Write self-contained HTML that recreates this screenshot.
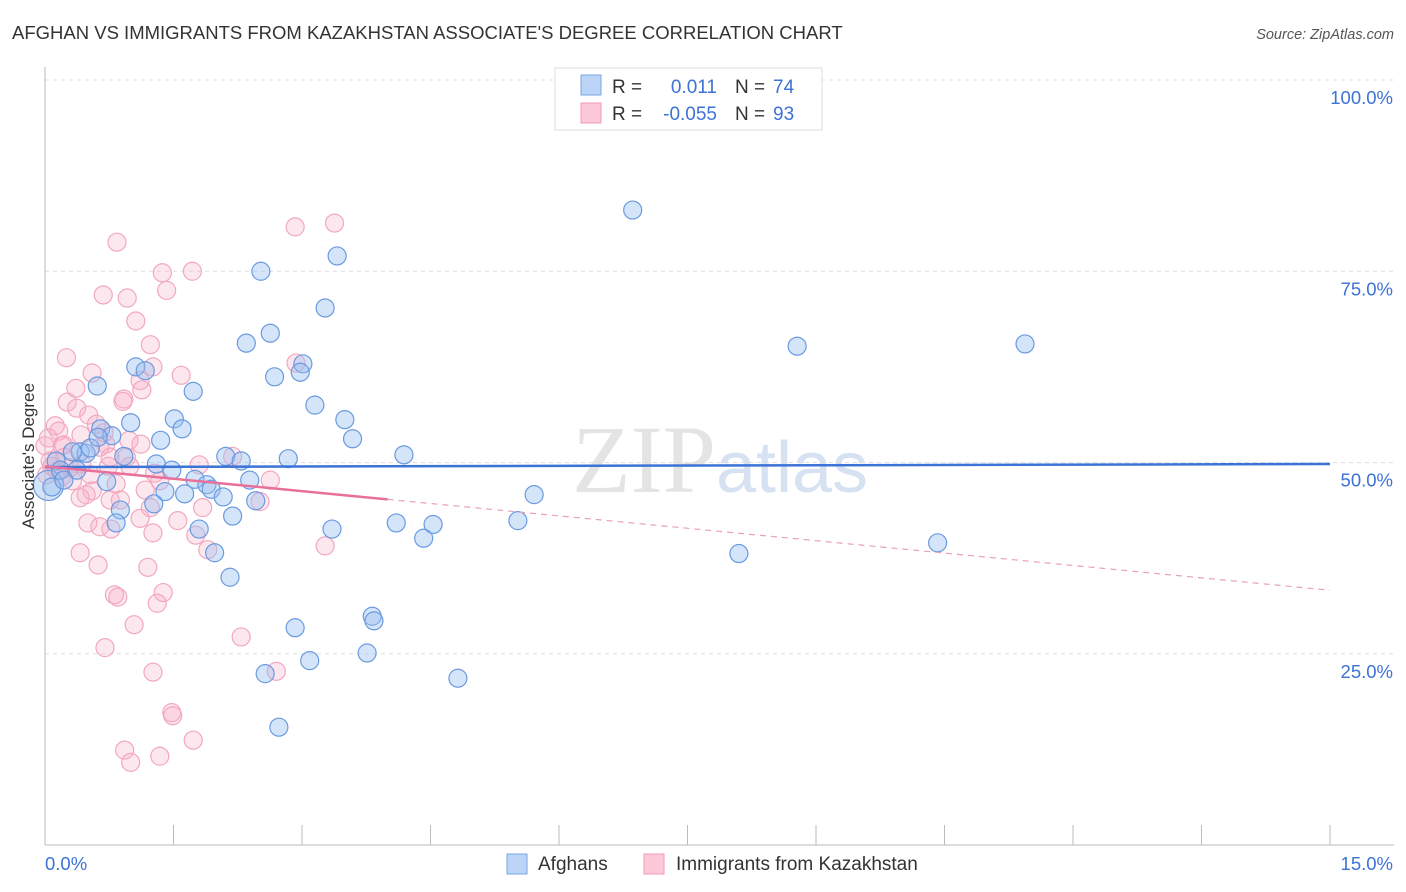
<!DOCTYPE html>
<html><head><meta charset="utf-8"><style>
body{margin:0;background:#fff;font-family:"Liberation Sans",sans-serif;}
svg{display:block}
</style></head><body>
<svg id="c" width="1406" height="892">
<text x="12" y="39" font-size="18.5" fill="#333">AFGHAN VS IMMIGRANTS FROM KAZAKHSTAN ASSOCIATE'S DEGREE CORRELATION CHART</text>
<text x="1394" y="39" font-size="14.5" fill="#555" font-style="italic" text-anchor="end">Source: ZipAtlas.com</text>
<text x="720" y="492" font-size="96" fill="#e4e4e4" text-anchor="middle" font-family="Liberation Serif,serif">ZIP<tspan fill="#d6e2f2" font-family="Liberation Sans,sans-serif" font-size="72">atlas</tspan></text>
<g id="grid"></g><g id="pts"></g><g id="lines"></g>
<text transform="translate(34,456) rotate(-90)" font-size="17" fill="#333" text-anchor="middle">Associate's Degree</text>
<g>
<rect x="555" y="68" width="267" height="62" fill="#fff" stroke="#ddd"/>
<rect x="581" y="75" width="20" height="20" fill="#bcd4f5" stroke="#7aa6e6"/>
<rect x="581" y="103" width="20" height="20" fill="#fbc9d8" stroke="#f09ab4"/>
<text x="612" y="93" font-size="19" fill="#333">R = </text><text x="717" y="93" font-size="19" fill="#3d72d6" text-anchor="end">0.011</text>
<text x="735" y="93" font-size="19" fill="#333">N = </text><text x="773" y="93" font-size="19" fill="#3d72d6">74</text>
<text x="612" y="120" font-size="19" fill="#333">R = </text><text x="717" y="120" font-size="19" fill="#3d72d6" text-anchor="end">-0.055</text>
<text x="735" y="120" font-size="19" fill="#333">N = </text><text x="773" y="120" font-size="19" fill="#3d72d6">93</text>
</g>
<g>
<rect x="507" y="854" width="20" height="20" fill="#bcd4f5" stroke="#7aa6e6"/>
<text x="538" y="870" font-size="19" fill="#333">Afghans</text>
<rect x="644" y="854" width="20" height="20" fill="#fbc9d8" stroke="#f09ab4"/>
<text x="676" y="870" font-size="19" fill="#333">Immigrants from Kazakhstan</text>
</g>
</svg>
<script>
const blueX=[6.86,3.41,2.52,3.27,2.63,2.35,8.78,11.44,1.06,1.17,3.01,2.98,2.68,0.61,1.73,3.15,3.50,1.51,1.00,1.60,0.65,0.78,1.35,3.59,4.19,2.84,2.11,2.29,0.41,0.48,0.13,1.30,1.48,0.92,5.71,5.52,8.10,10.42,1.75,1.89,1.94,2.08,2.39,2.46,1.40,1.63,2.19,1.27,0.88,0.83,3.35,4.10,4.53,4.42,1.80,1.98,2.16,3.82,3.84,2.92,3.09,3.76,2.57,4.82,2.73,0.72,0.04,0.08,0.18,0.32,0.53,0.37,0.22,0.62];
const blueY=[83.0,77.0,75.0,70.2,66.9,65.6,65.2,65.5,62.5,62.0,62.9,61.8,61.2,60.0,59.3,57.5,55.6,55.7,55.2,54.4,54.4,53.5,52.9,53.1,51.0,50.5,50.8,50.2,51.4,51.2,50.2,49.8,49.0,50.8,45.8,42.4,38.1,39.5,47.8,47.1,46.5,45.5,47.7,45.0,46.2,45.9,43.0,44.6,43.8,42.1,41.3,42.1,41.9,40.1,41.3,38.2,35.0,29.9,29.3,28.4,24.1,25.1,22.4,21.8,15.4,47.5,47.0,46.8,49.0,51.4,51.9,49.0,47.7,53.3];
const pinkX=[3.38,2.92,0.84,1.37,1.72,1.42,0.68,0.96,1.06,1.23,0.25,1.26,1.59,2.93,0.55,1.11,1.13,0.36,0.92,0.26,0.37,0.91,0.51,0.60,0.12,0.16,0.42,0.04,0.22,0.71,0.98,0.76,0.95,1.80,2.19,1.12,0.69,0.06,0.14,0.20,0.32,2.63,1.17,1.28,0.55,0.48,0.41,0.76,1.84,1.23,2.51,0.50,0.64,0.77,1.55,1.26,1.76,1.90,0.41,0.62,1.20,1.38,1.31,0.81,0.85,3.27,1.04,0.70,2.29,1.26,2.70,1.48,1.49,1.73,0.93,1.34,1.00,0.13,0.08,0.29,0.20,0.00,0.02,0.43,0.83,0.74,0.53,0.99,0.23,0.64,0.88,1.11,1.34];
const pinkY=[81.3,80.8,78.8,74.8,75.0,72.5,71.9,71.5,68.5,65.4,63.7,62.5,61.4,63.0,61.7,60.7,59.5,59.7,58.3,57.9,57.1,58.0,56.2,55.0,54.8,54.1,53.6,53.2,52.3,52.4,52.9,50.7,50.7,49.7,50.8,52.4,53.9,50.2,48.9,48.2,47.6,47.7,46.4,48.6,46.3,45.8,45.4,45.1,44.1,44.1,44.9,42.1,41.6,41.3,42.4,40.8,40.5,38.6,38.2,36.6,36.3,33.0,31.6,32.7,32.4,39.1,28.8,25.8,27.2,22.6,22.7,17.3,16.9,13.7,12.4,11.6,10.8,50.2,49.5,49.3,52.2,52.2,48.4,49.8,47.2,49.5,48.4,49.5,50.7,52.0,45.1,42.7,47.6];
const blueTrend=[49.4,49.8];
const pinkTrend=[49.5,33.3];
const pinkSolidEnd=4.0;
const xTicks=[0,1.5,3,4.5,6,7.5,9,10.5,12,13.5,15];
const yTicks=[25,50,75,100];
const yTickLabels=["25.0%","50.0%","75.0%","100.0%"];
const xTickLabels=["0.0%","15.0%"];

const NS="http://www.w3.org/2000/svg";
const X0=45,X1=1330,Y0=845,Y100=80;
const sx=v=>X0+(X1-X0)*v/15;
const sy=v=>Y0-(Y0-Y100)*v/100;
function mk(tag,attrs,parent){const e=document.createElementNS(NS,tag);for(const k in attrs)e.setAttribute(k,attrs[k]);parent.appendChild(e);return e;}
const svg=document.getElementById('c'),grid=document.getElementById('grid'),pts=document.getElementById('pts'),lines=document.getElementById('lines');
yTicks.forEach((t,i)=>{
  const l=mk('line',{x1:X0,x2:1394,y1:sy(t),y2:sy(t),stroke:'#ddd','stroke-dasharray':'4,4'},grid);
  
  
  const tx=mk('text',{x:1393,y:sy(t)+24,'font-size':18.5,fill:'#3d72d6','text-anchor':'end'},grid);
  tx.textContent=yTickLabels[i];
  
  
});
const ax=mk('line',{x1:X0,x2:X0,y1:67,y2:Y0,stroke:'#bbb'},grid);


const bx=mk('line',{x1:X0,x2:1394,y1:Y0,y2:Y0,stroke:'#bbb'},grid);


xTicks.forEach(t=>{
  const l=mk('line',{x1:sx(t),x2:sx(t),y1:Y0-20,y2:Y0,stroke:'#bbb'},grid);
  
  
});
const xl0=mk('text',{x:45,y:870,'font-size':18.5,fill:'#3d72d6'},grid);xl0.textContent=xTickLabels[0];


const xl1=mk('text',{x:1393,y:870,'font-size':18.5,fill:'#3d72d6','text-anchor':'end'},grid);xl1.textContent=xTickLabels[1];


pinkX.forEach((v,i)=>{
  const c=mk('circle',{cx:sx(v),cy:sy(pinkY[i]),r:9,fill:'rgba(248,175,200,0.3)',stroke:'#f2a8bf','stroke-width':1.2},pts);
  
  
});
blueX.forEach((v,i)=>{
  const c=mk('circle',{cx:sx(v),cy:sy(blueY[i]),r:(i==66?15:9),fill:'rgba(150,190,240,0.4)',stroke:'#6a9ae0','stroke-width':1.2},pts);
  
  
});
const bl=mk('line',{x1:sx(0),y1:sy(blueTrend[0]),x2:sx(15),y2:sy(blueTrend[1]),stroke:'#3b73d6','stroke-width':2.5},lines);


const pAt=x=>pinkTrend[0]+(pinkTrend[1]-pinkTrend[0])*x/15;
const ps=mk('line',{x1:sx(0),y1:sy(pAt(0)),x2:sx(pinkSolidEnd),y2:sy(pAt(pinkSolidEnd)),stroke:'#e8709a','stroke-width':2.5},lines);


const pd=mk('line',{x1:sx(pinkSolidEnd),y1:sy(pAt(pinkSolidEnd)),x2:sx(15),y2:sy(pAt(15)),stroke:'#e8a0b8','stroke-width':1.2,'stroke-dasharray':'6,5'},lines);


</script>
</body></html>
